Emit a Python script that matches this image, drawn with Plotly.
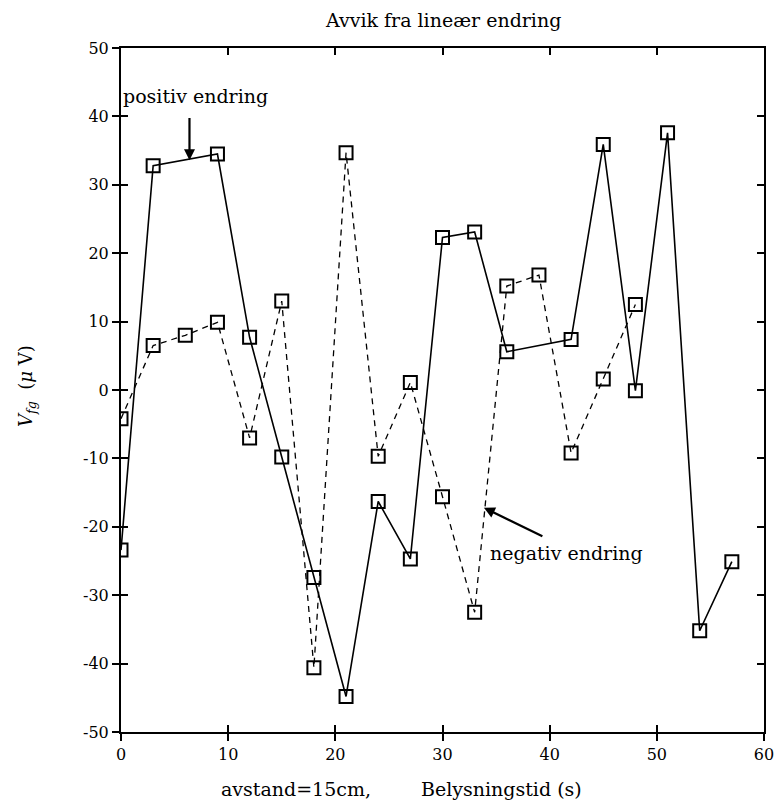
import plotly.graph_objects as go

# Measurement series (µV) against exposure time (s)
x_pos = [0, 3, 9, 12, 15, 18, 21, 24, 27, 30, 33, 36, 42, 45, 48, 51, 54, 57]
v_pos = [-23.4, 32.8, 34.5, 7.7, -9.8, -27.4, -44.8, -16.3, -24.7, 22.3, 23.1,
         5.6, 7.4, 35.9, -0.1, 37.6, -35.2, -25.1]

x_neg = [0, 3, 6, 9, 12, 15, 18, 21, 24, 27, 30, 33, 36, 39, 42, 45, 48]
v_neg = [-4.2, 6.5, 8.0, 9.9, -7.0, 13.0, -40.6, 34.7, -9.7, 1.1, -15.6, -32.5,
         15.2, 16.8, -9.2, 1.6, 12.5]

x_ticks = [0, 10, 20, 30, 40, 50, 60]
x_ticktext = ["0", "10", "20", "30", "40", "50", "60"]
y_ticks = [-50, -40, -30, -20, -10, 0, 10, 20, 30, 40, 50]
y_ticktext = ["-50", "-40", "-30", "-20", "-10", "0", "10", "20", "30", "40", "50"]

FONT = "'DejaVu Serif', 'Liberation Serif', serif"
INK = "black"
FS = 16      # tick labels
FS_TXT = 19  # titles and callouts

fig = go.Figure()

fig.add_trace(go.Scatter(
    x=x_neg, y=v_neg, mode="lines+markers",
    line=dict(color=INK, width=1.3, dash="6px,5px"),
    marker=dict(symbol="square-open", size=13, color=INK, line=dict(width=2, color=INK)),
    showlegend=False, hoverinfo="x+y",
))
fig.add_trace(go.Scatter(
    x=x_pos, y=v_pos, mode="lines+markers",
    line=dict(color=INK, width=1.6),
    marker=dict(symbol="square-open", size=13, color=INK, line=dict(width=2, color=INK)),
    showlegend=False, hoverinfo="x+y",
))

tick_common = dict(ticklen=7, tickwidth=2, tickcolor=INK, showgrid=False, zeroline=False,
                   automargin=False)

fig.update_layout(
    width=777, height=805,
    margin=dict(l=121, r=13, t=48, b=73),
    paper_bgcolor="white", plot_bgcolor="white",
    font=dict(family=FONT, size=FS, color=INK),
    xaxis=dict(range=[0, 60], tickvals=x_ticks, ticktext=x_ticktext, ticks="outside",
               showline=True, linewidth=2, linecolor=INK, side="bottom",
               tickfont=dict(family=FONT, size=FS), **tick_common),
    xaxis2=dict(range=[0, 60], overlaying="x", anchor="y", side="bottom", tickvals=x_ticks,
                ticks="inside", showticklabels=False, showline=False, **tick_common),
    xaxis3=dict(range=[0, 60], overlaying="x", anchor="y", side="top", tickvals=x_ticks,
                ticks="inside", showticklabels=False, showline=True, linewidth=2,
                linecolor=INK, **tick_common),
    yaxis=dict(range=[-50, 50], tickvals=y_ticks, ticktext=y_ticktext, ticks="outside",
               showline=True, linewidth=2, linecolor=INK, side="left",
               tickfont=dict(family=FONT, size=FS), **tick_common),
    yaxis2=dict(range=[-50, 50], overlaying="y", anchor="x", side="left", tickvals=y_ticks,
                ticks="inside", showticklabels=False, showline=False, **tick_common),
    yaxis3=dict(range=[-50, 50], overlaying="y", anchor="x", side="right", tickvals=y_ticks,
                ticks="inside", showticklabels=False, showline=True, linewidth=2,
                linecolor=INK, **tick_common),
)

# Invisible carriers so the mirrored tick axes get drawn
for xa, ya in [("x2", "y2"), ("x3", "y3")]:
    fig.add_trace(go.Scatter(x=[None], y=[None], xaxis=xa, yaxis=ya,
                             showlegend=False, hoverinfo="skip"))

txt = dict(family=FONT, size=FS_TXT, color=INK)
annotations = [
    dict(text="Avvik fra lineær endring", xref="paper", yref="paper", x=(443 - 121) / 643,
         y=1, yshift=28, showarrow=False, xanchor="center", yanchor="middle", font=txt),
    dict(text="avstand=15cm,", xref="paper", yref="paper", x=(296 - 121) / 643, y=0,
         yshift=-57, showarrow=False, xanchor="center", yanchor="middle", font=txt),
    dict(text="Belysningstid (s)", xref="paper", yref="paper", x=(501 - 121) / 643, y=0,
         yshift=-57, showarrow=False, xanchor="center", yanchor="middle", font=txt),
    dict(text="<i>V</i><sub><i>fg</i></sub>  (<i>μ</i> V)", xref="paper", yref="paper",
         x=0, xshift=-94, y=0.5, yshift=4, textangle=-90, showarrow=False,
         xanchor="center", yanchor="middle", font=dict(family=FONT, size=18, color=INK)),
    dict(text="positiv endring", x=0, y=43.0, xref="x", yref="y", showarrow=False,
         xanchor="left", yanchor="middle", font=txt),
    dict(text="", x=6.39, y=33.6, ax=6.39, ay=40.0, xref="x", yref="y", axref="x", ayref="y",
         showarrow=True, arrowhead=2, arrowsize=1, arrowwidth=2.2, arrowcolor=INK),
    dict(text="negativ endring", x=34.2, y=-23.9, xref="x", yref="y", showarrow=False,
         xanchor="left", yanchor="middle", font=txt),
    dict(text="", x=33.86, y=-17.2, ax=39.46, ay=-21.5, xref="x", yref="y", axref="x",
         ayref="y", showarrow=True, arrowhead=2, arrowsize=1, arrowwidth=2.2, arrowcolor=INK),
]
fig.update_layout(annotations=annotations)

fig.write_html("out.html")
